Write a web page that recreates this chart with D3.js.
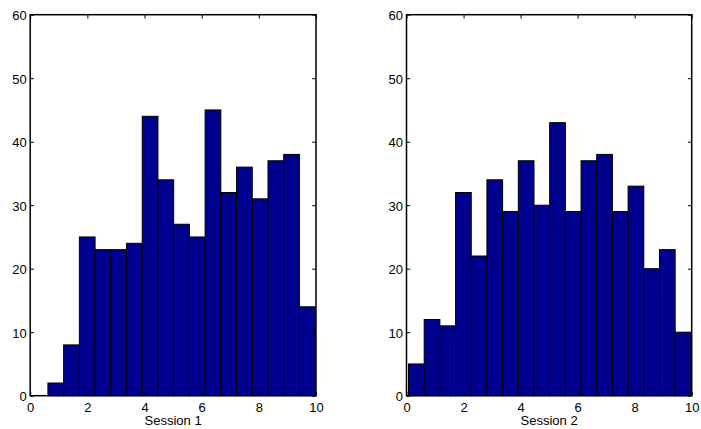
<!DOCTYPE html>
<html>
<head>
<meta charset="utf-8">
<script src="https://cdn.jsdelivr.net/npm/d3@7"></script>
<style>
  html, body { margin: 0; padding: 0; background: #fff; }
  svg { display: block; }
  text { font-family: "Liberation Sans", Arial, Helvetica, sans-serif; fill: #000; }
</style>
</head>
<body>
<svg id="chart" width="701" height="429"></svg>
<script>
// ---- data ----
const binEdges = [0.07, 0.62, 1.17, 1.72, 2.27, 2.82, 3.37, 3.92, 4.47, 5.02, 5.57, 6.12, 6.67, 7.22, 7.77, 8.32, 8.87, 9.42, 9.97];
const session1Counts = [0, 2, 8, 25, 23, 23, 24, 44, 34, 27, 25, 45, 32, 36, 31, 37, 38, 14];
const session2Counts = [5, 12, 11, 32, 22, 34, 29, 37, 30, 43, 29, 37, 38, 29, 33, 20, 23, 10];
const xTicks = [0, 2, 4, 6, 8, 10];
const yTicks = [0, 10, 20, 30, 40, 50, 60];
const panelTitles = ["Session 1", "Session 2"];

// ---- layout ----
const svg = d3.select("#chart");
const plotTop = 14.7, plotBottom = 395.7;
const panels = [
  { x0: 30.2, x1: 316, counts: session1Counts, label: panelTitles[0] },
  { x0: 406.5, x1: 691.7, counts: session2Counts, label: panelTitles[1] }
];
const tickLen = 3.8;
const fontSize = 13;
const fontFam = '"Liberation Sans", Arial, Helvetica, sans-serif';

panels.forEach(p => {
  const x = d3.scaleLinear().domain([0, 10]).range([p.x0, p.x1]);
  const y = d3.scaleLinear().domain([0, 60]).range([plotBottom, plotTop]);
  const g = svg.append("g");

  const bins = p.counts.map((c, i) => ({ x0: binEdges[i], x1: binEdges[i + 1], c }));

  g.selectAll("rect.bar").data(bins).enter().append("rect")
    .attr("class", "bar")
    .attr("x", d => x(d.x0))
    .attr("width", d => x(d.x1) - x(d.x0))
    .attr("y", d => y(d.c))
    .attr("height", d => y(0) - y(d.c))
    .attr("fill", "#00008F")
    .attr("stroke", "#000")
    .attr("stroke-width", 1);

  g.append("rect")
    .attr("x", p.x0).attr("y", plotTop)
    .attr("width", p.x1 - p.x0).attr("height", plotBottom - plotTop)
    .attr("fill", "none").attr("stroke", "#000").attr("stroke-width", 1.5);

  const xAxisB = d3.axisBottom(x).tickValues(xTicks).tickSize(-tickLen).tickFormat(d3.format("d"));
  const gxb = g.append("g").attr("transform", `translate(0,${plotBottom})`).call(xAxisB);
  const xAxisT = d3.axisTop(x).tickValues(xTicks).tickSize(-tickLen).tickFormat("");
  const gxt = g.append("g").attr("transform", `translate(0,${plotTop})`).call(xAxisT);

  const yAxisL = d3.axisLeft(y).tickValues(yTicks).tickSize(-tickLen).tickPadding(3.5).tickFormat(d3.format("d"));
  const gyl = g.append("g").attr("transform", `translate(${p.x0},0)`).call(yAxisL);
  const yAxisR = d3.axisRight(y).tickValues(yTicks).tickSize(-tickLen).tickFormat("");
  const gyr = g.append("g").attr("transform", `translate(${p.x1},0)`).call(yAxisR);

  [gxb, gxt, gyl, gyr].forEach(a => {
    a.select(".domain").remove();
    a.selectAll(".tick line").attr("stroke", "#000").attr("stroke-width", 1);
    a.selectAll(".tick text")
      .style("font-family", fontFam)
      .style("font-size", fontSize + "px")
      .attr("fill", "#111");
  });
  gxb.selectAll(".tick text").attr("y", 16).attr("dy", "0");
  gyl.selectAll(".tick text").attr("dy", "0.38em");

  g.append("text")
    .attr("x", (p.x0 + p.x1) / 2)
    .attr("y", 425)
    .attr("text-anchor", "middle")
    .style("font-family", fontFam)
    .style("font-size", fontSize + "px")
    .attr("fill", "#111")
    .text(p.label);
});
</script>
</body>
</html>
